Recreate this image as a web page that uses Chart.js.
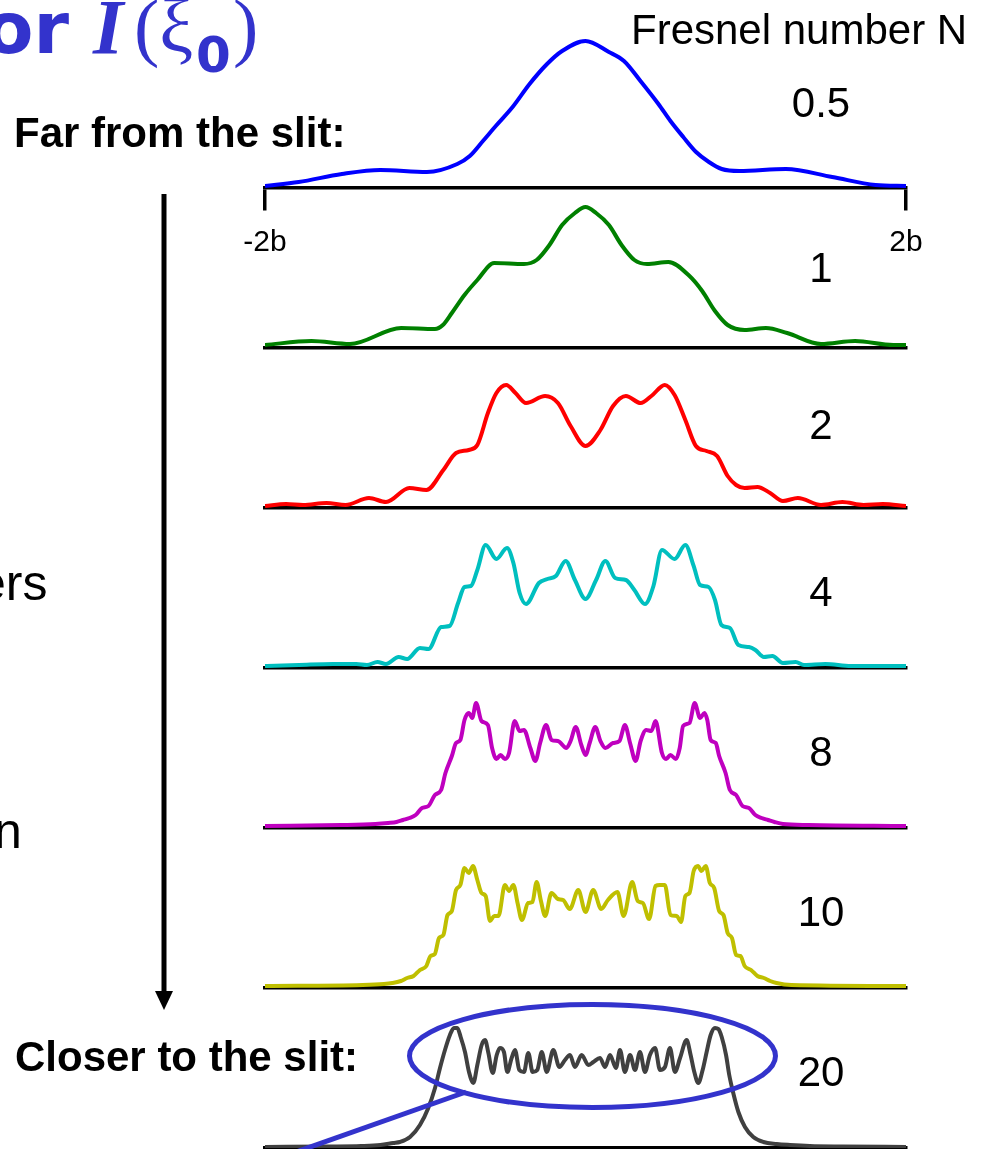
<!DOCTYPE html>
<html>
<head>
<meta charset="utf-8">
<script src="https://cdn.jsdelivr.net/npm/chart.js@4.4.0/dist/chart.umd.min.js"></script>
<style>
  html, body { margin: 0; padding: 0; background: #fff; }
  #page { position: relative; width: 990px; height: 1149px; overflow: hidden; }
  #chart { position: absolute; left: 0; top: 0; }
  #deco { position: absolute; left: 0; top: 0; }
  .lbl { position: absolute; line-height: 1; white-space: nowrap; font-family: "Liberation Sans", Arial, sans-serif; font-size: 42px; color: #000; }
  .num { transform: translateX(-50%); }
  .bold { font-weight: bold; }
  .title { position: absolute; line-height: 1; white-space: nowrap; color: #3333cc; }
</style>
</head>
<body>
<div id="page">
  <canvas id="chart" width="990" height="1149"></canvas>

  <svg id="deco" width="990" height="1149">
    <line x1="164" y1="194" x2="164" y2="994" stroke="#000" stroke-width="5"/>
    <polygon points="155,991 173,991 164,1010" fill="#000"/>
    <ellipse cx="592.5" cy="1056" rx="183" ry="51.5" fill="none" stroke="#3333cc" stroke-width="5"/>
    <line x1="466" y1="1092" x2="296" y2="1152" stroke="#3333cc" stroke-width="5"/>
  </svg>

  <!-- title (cut off on the left in the original slide) -->
  <span class="title" style="left:-16px; top:-14px; font:bold 72px 'DejaVu Sans', sans-serif;">or</span>
  <span class="title" style="left:93px; top:-18px; font:bold italic 78px 'Liberation Serif', 'Times New Roman', serif;">I</span>
  <span class="title" style="left:134px; top:-17px; font:76px 'Liberation Serif', 'Times New Roman', serif;">(ξ</span>
  <span class="title" style="left:196px; top:26px; font:bold 50px 'DejaVu Sans', sans-serif;">0</span>
  <span class="title" style="left:233px; top:-17px; font:76px 'Liberation Serif', 'Times New Roman', serif;">)</span>

  <div class="lbl" style="left:631px; top:9px;">Fresnel number N</div>
  <div class="lbl bold" style="left:14px; top:112px;">Far from the slit:</div>
  <div class="lbl bold" style="left:15px; top:1036px;">Closer to the slit:</div>
  <div class="lbl" style="left:-22px; top:558px; font-size:50px;">ers</div>
  <div class="lbl" style="left:-6px; top:806px; font-size:50px;">n</div>
  <div id="numbers"></div>
</div>

<script>
// Fresnel numbers, one panel each (top = far from the slit)
const fresnelNumbers = ["0.5", "1", "2", "4", "8", "10", "20"];

// x positions are in units of the half-width b, y is relative intensity
const n05x = [-2.0, -1.79, -1.52, -1.28, -0.99, -0.80, -0.722, -0.64, -0.56, -0.455, -0.349, -0.24, -0.146, 0, 0.146, 0.24, 0.343, 0.455, 0.53, 0.61, 0.69, 0.77, 0.85, 0.96, 1.25, 1.54, 1.81, 2.0];
const n05y = [0.02, 0.06, 0.14, 0.18, 0.16, 0.24, 0.32, 0.47, 0.62, 0.81, 1.04, 1.24, 1.37, 1.47, 1.36, 1.27, 1.07, 0.84, 0.67, 0.51, 0.36, 0.26, 0.19, 0.17, 0.19, 0.11, 0.03, 0.02];

const n1x = [-2.0, -1.71, -1.47, -1.15, -0.94, -0.89, -0.834, -0.755, -0.675, -0.57, -0.384, -0.305, -0.225, -0.146, -0.066, 0, 0.066, 0.146, 0.225, 0.305, 0.384, 0.517, 0.649, 0.728, 0.808, 0.887, 0.993, 1.126, 1.258, 1.47, 1.682, 1.921, 2.0];
const n1y = [0.03, 0.07, 0.04, 0.20, 0.19, 0.23, 0.35, 0.53, 0.68, 0.85, 0.84, 0.88, 1.03, 1.23, 1.35, 1.41, 1.35, 1.23, 1.03, 0.88, 0.84, 0.86, 0.72, 0.57, 0.37, 0.23, 0.18, 0.20, 0.15, 0.04, 0.07, 0.03, 0.03];

const n2x = [-2.0, -1.868, -1.762, -1.616, -1.497, -1.351, -1.245, -1.099, -0.993, -0.887, -0.808, -0.728, -0.675, -0.609, -0.556, -0.495, -0.437, -0.371, -0.252, -0.172, -0.093, 0,
             0.093, 0.172, 0.252, 0.344, 0.411, 0.495, 0.556, 0.623, 0.689, 0.755, 0.821, 0.887, 0.940, 0.993, 1.073, 1.152, 1.232, 1.325, 1.470, 1.603, 1.735, 1.854, 2.0];
const n2y = [0.02, 0.04, 0.03, 0.05, 0.03, 0.10, 0.06, 0.20, 0.18, 0.38, 0.55, 0.58, 0.63, 0.95, 1.15, 1.23, 1.15, 1.05, 1.12, 1.05, 0.82, 0.62,
             0.78, 1.02, 1.12, 1.05, 1.12, 1.23, 1.13, 0.88, 0.62, 0.57, 0.52, 0.32, 0.23, 0.20, 0.21, 0.15, 0.07, 0.10, 0.03, 0.06, 0.03, 0.04, 0.02];

const n4x = [-2.0, -1.788, -1.576, -1.430, -1.364, -1.298, -1.245, -1.166, -1.113, -1.033, -0.980, -0.901, -0.848, -0.795, -0.755, -0.715, -0.675, -0.623, -0.556, -0.490, -0.450, -0.411, -0.371, -0.291, -0.238, -0.185, -0.124, -0.066, 0,
             0.066, 0.124, 0.185, 0.252, 0.305, 0.371, 0.424, 0.477, 0.556, 0.623, 0.675, 0.715, 0.768, 0.808, 0.848, 0.901, 0.954, 1.020, 1.060, 1.113, 1.166, 1.232, 1.311, 1.364, 1.497, 1.656, 2.0];
const n4y = [0.02, 0.03, 0.04, 0.04, 0.03, 0.06, 0.04, 0.11, 0.09, 0.20, 0.19, 0.41, 0.42, 0.65, 0.81, 0.82, 0.98, 1.23, 1.09, 1.20, 1.05, 0.75, 0.64, 0.85, 0.89, 0.92, 1.07, 0.88, 0.69,
             0.88, 1.07, 0.90, 0.88, 0.78, 0.64, 0.82, 1.18, 1.09, 1.23, 1.02, 0.83, 0.81, 0.68, 0.43, 0.40, 0.23, 0.21, 0.18, 0.11, 0.12, 0.05, 0.06, 0.03, 0.04, 0.02, 0.02];

const n8x = [-2.0, -1.523, -1.311, -1.232, -1.179, -1.139, -1.099, -1.060, -1.020, -0.980, -0.940, -0.901, -0.874, -0.834, -0.808, -0.781, -0.755, -0.728, -0.707, -0.683, -0.649, -0.609, -0.583, -0.556, -0.530, -0.503, -0.477, -0.442, -0.411, -0.384, -0.344, -0.313, -0.283, -0.246, -0.212, -0.172, -0.119, -0.093, -0.061, -0.026, 0,
             0.026, 0.061, 0.093, 0.124, 0.172, 0.212, 0.246, 0.278, 0.313, 0.344, 0.379, 0.411, 0.437, 0.477, 0.503, 0.530, 0.564, 0.588, 0.609, 0.649, 0.681, 0.715, 0.742, 0.760, 0.781, 0.813, 0.834, 0.874, 0.901, 0.940, 0.980, 1.020, 1.060, 1.099, 1.139, 1.179, 1.232, 1.391, 2.0];
const n8y = [0.02, 0.03, 0.04, 0.05, 0.06, 0.08, 0.10, 0.13, 0.20, 0.22, 0.33, 0.38, 0.55, 0.72, 0.85, 0.88, 1.08, 1.15, 1.10, 1.25, 1.07, 1.03, 0.80, 0.69, 0.73, 0.69, 0.75, 1.07, 0.97, 0.98, 0.80, 0.67, 0.85, 1.03, 0.88, 0.87, 0.80, 0.87, 1.01, 0.83, 0.73,
             0.85, 1.01, 0.87, 0.80, 0.85, 0.87, 1.03, 0.85, 0.67, 0.87, 0.98, 0.97, 1.07, 0.75, 0.69, 0.73, 0.69, 0.80, 1.02, 1.05, 1.25, 1.10, 1.15, 1.08, 0.88, 0.85, 0.72, 0.55, 0.38, 0.33, 0.22, 0.20, 0.13, 0.10, 0.08, 0.06, 0.04, 0.03, 0.02];

const n10x = [-2.0, -1.391, -1.258, -1.205, -1.152, -1.113, -1.073, -1.033, -0.993, -0.967, -0.940, -0.914, -0.887, -0.861, -0.834, -0.808, -0.781, -0.755, -0.728, -0.702, -0.675, -0.649, -0.623, -0.596, -0.570, -0.543, -0.503, -0.477, -0.450, -0.424, -0.397, -0.358, -0.331, -0.305, -0.278, -0.252, -0.212, -0.172, -0.140, -0.098, -0.045, 0,
              0.048, 0.098, 0.140, 0.199, 0.238, 0.291, 0.326, 0.358, 0.397, 0.437, 0.464, 0.495, 0.530, 0.570, 0.596, 0.623, 0.649, 0.675, 0.702, 0.723, 0.750, 0.776, 0.803, 0.834, 0.861, 0.887, 0.914, 0.940, 0.967, 0.993, 1.033, 1.073, 1.113, 1.152, 1.192, 1.285, 2.0];
const n10y = [0.02, 0.03, 0.04, 0.05, 0.07, 0.10, 0.12, 0.18, 0.22, 0.32, 0.34, 0.50, 0.53, 0.73, 0.77, 0.98, 1.03, 1.20, 1.15, 1.22, 1.08, 0.95, 0.92, 0.67, 0.72, 0.72, 1.03, 0.97, 1.03, 0.85, 0.68, 0.85, 0.86, 1.06, 0.87, 0.72, 0.95, 0.89, 0.88, 0.79, 0.98, 0.76,
              0.98, 0.79, 0.88, 0.96, 0.72, 1.06, 0.87, 0.85, 0.69, 1.02, 1.03, 1.03, 0.73, 0.72, 0.66, 0.92, 0.95, 1.17, 1.22, 1.17, 1.22, 1.05, 1.00, 0.77, 0.73, 0.55, 0.50, 0.33, 0.32, 0.22, 0.18, 0.12, 0.10, 0.07, 0.05, 0.03, 0.02];

const n20x = [-2.0, -1.6, -1.4, -1.28, -1.2, -1.158, -1.095, -1.033, -0.981, -0.939, -0.908, -0.877, -0.846, -0.821, -0.800, -0.779, -0.752, -0.727, -0.700, -0.675,
              -0.648, -0.627, -0.606, -0.579, -0.554, -0.534, -0.509, -0.488, -0.461, -0.440, -0.413, -0.384, -0.357, -0.330, -0.301, -0.273, -0.242, -0.201, -0.163, -0.128,
              -0.097, -0.066, -0.024, 0.018, 0.049, 0.090, 0.122, 0.153, 0.190, 0.215, 0.246, 0.278, 0.309, 0.340, 0.371, 0.402, 0.434, 0.465, 0.496, 0.527,
              0.558, 0.590, 0.631, 0.656, 0.679, 0.704, 0.731, 0.756, 0.781, 0.808, 0.829, 0.850, 0.877, 0.897, 0.922, 0.954, 0.995, 1.047, 1.110, 1.193, 1.276, 1.4, 1.6, 2.0];
const n20y = [0.01, 0.015, 0.02, 0.03, 0.05, 0.06, 0.11, 0.23, 0.40, 0.60, 0.80, 0.98, 1.13, 1.20, 1.20, 1.11, 0.96, 0.76, 0.65, 0.83,
              1.03, 1.08, 0.95, 0.75, 0.93, 1.00, 0.96, 0.76, 0.90, 0.98, 0.78, 0.76, 0.95, 0.76, 0.78, 0.96, 0.76, 0.98, 0.81, 0.88,
              0.93, 0.81, 0.93, 0.83, 0.86, 0.90, 0.81, 0.93, 0.80, 0.98, 0.76, 0.93, 0.78, 0.96, 0.76, 0.93, 1.00, 0.78, 0.81, 1.00,
              0.76, 0.90, 1.08, 0.93, 0.76, 0.65, 0.78, 0.96, 1.13, 1.20, 1.19, 1.11, 0.93, 0.73, 0.55, 0.36, 0.21, 0.11, 0.06, 0.04, 0.03, 0.02, 0.015, 0.01];

// axis tick labels (only under the top panel)
const tickValues = [-2, 2];
const tickLabels = ["-2b", "2b"];

// matlab-like line colours
const seriesColors = ["#0000ff", "#008000", "#ff0000", "#00bfbf", "#bf00bf", "#bfbf00", "#404040"];

// where the N labels sit (centre x, top y)
const numberLeft = 821;
const numberTops = [82, 247, 404, 571, 731, 891, 1051];

const series = [
  { x: n05x, y: n05y },
  { x: n1x, y: n1y },
  { x: n2x, y: n2y },
  { x: n4x, y: n4y },
  { x: n8x, y: n8y },
  { x: n10x, y: n10y },
  { x: n20x, y: n20y },
];

// -------------------------------
// N labels on the right
// -------------------------------
const numbersBox = document.getElementById("numbers");
fresnelNumbers.forEach((n, i) => {
  const d = document.createElement("div");
  d.className = "lbl num";
  d.style.left = numberLeft + "px";
  d.style.top = numberTops[i] + "px";
  d.textContent = n;
  numbersBox.appendChild(d);
});

// -------------------------------
// One stacked y axis per panel, one x axis sitting on each panel's zero
// -------------------------------
const scales = {};
series.forEach((s, i) => {
  const first = i === 0;
  scales["x" + i] = {
    type: "linear",
    axis: "x",
    position: { ["y" + i]: 0 },
    min: -2,
    max: 2,
    border: { display: true, color: "#000", width: 3.5 },
    grid: { display: first, drawOnChartArea: false, drawTicks: true, tickLength: 21, color: "#000", lineWidth: 3.5 },
    ticks: {
      display: first,
      autoSkip: false,
      maxRotation: 0,
      padding: 16,
      color: "#000",
      font: { family: "'Liberation Sans', Arial, sans-serif", size: 30 },
      callback: (value) => tickLabels[tickValues.indexOf(value)],
    },
    afterBuildTicks: (axis) => {
      axis.ticks = tickValues.map((v) => ({ value: v }));
    },
  };
  scales["y" + i] = {
    type: "linear",
    axis: "y",
    position: "left",
    stack: "panels",
    stackWeight: 1,
    weight: series.length - i,
    display: false,
    min: 0,
    max: 1.6,
  };
});

const datasets = series.map((s, i) => ({
  label: "N = " + fresnelNumbers[i],
  data: s.x.map((x, j) => ({ x: x, y: s.y[j] })),
  xAxisID: "x" + i,
  yAxisID: "y" + i,
  borderColor: seriesColors[i],
  borderWidth: 4,
  pointRadius: 0,
  fill: false,
  cubicInterpolationMode: "monotone",
}));

new Chart(document.getElementById("chart"), {
  type: "line",
  data: { datasets: datasets },
  options: {
    responsive: false,
    animation: false,
    events: [],
    layout: { padding: { left: 265, right: 84, top: 28, bottom: 1 } },
    plugins: { legend: { display: false }, tooltip: { enabled: false } },
    scales: scales,
  },
});
</script>
</body>
</html>
